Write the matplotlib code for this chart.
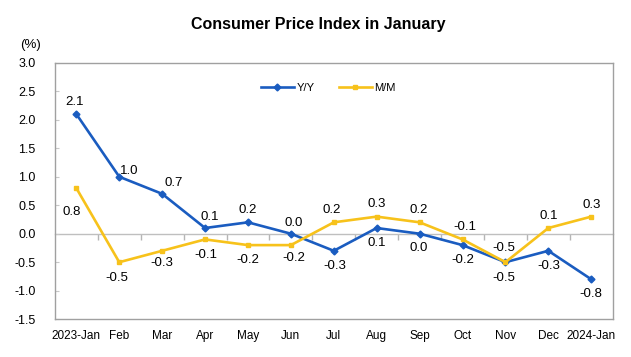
import matplotlib
matplotlib.use("Agg")
import matplotlib.pyplot as plt

categories = ["2023-Jan", "Feb", "Mar", "Apr", "May", "Jun", "Jul", "Aug",
              "Sep", "Oct", "Nov", "Dec", "2024-Jan"]
yy = [2.1, 1.0, 0.7, 0.1, 0.2, 0.0, -0.3, 0.1, 0.0, -0.2, -0.5, -0.3, -0.8]
mm = [0.8, -0.5, -0.3, -0.1, -0.2, -0.2, 0.2, 0.3, 0.2, -0.1, -0.5, 0.1, 0.3]
yticks = [-1.5, -1.0, -0.5, 0.0, 0.5, 1.0, 1.5, 2.0, 2.5, 3.0]

# label offsets in pixels (dx, dy; dy positive = up)
yy_off = [(-2, 12), (10, 6), (12, 11), (5, 11), (0, 12), (3, 11), (1, -15),
          (0, -15), (-1, -14), (0, -15), (-2, -16), (0, -15), (0, -15)]
mm_off = [(-5, -24), (-2, -16), (0, -12), (1, -16), (0, -15), (3, -13), (-2, 12),
          (0, 13), (-1, 12), (2, 12), (-2, 14), (0, 12), (0, 12)]

plt.rcParams['font.family'] = ['Liberation Sans', 'DejaVu Sans']

BLUE = "#1a5cc0"
YEL = "#f7c21b"
PX = 0.72  # points per pixel at 100 dpi

fig = plt.figure(figsize=(6.31, 3.57), dpi=100)
ax = fig.add_axes([0.087, 0.106, 0.884, 0.718])
x = list(range(len(categories)))

ax.plot(x, yy, color=BLUE, lw=1.9, marker='D', ms=3.5, label='Y/Y', zorder=3)
ax.plot(x, mm, color=YEL, lw=1.9, marker='s', ms=3.5, label='M/M', zorder=3)

for xi, v, (dx, dy) in zip(x, yy, yy_off):
    ax.annotate(f"{v:.1f}", (xi, v), xytext=(dx * PX, dy * PX),
                textcoords='offset points', ha='center', va='center', fontsize=9.5)
for xi, v, (dx, dy) in zip(x, mm, mm_off):
    ax.annotate(f"{v:.1f}", (xi, v), xytext=(dx * PX, dy * PX),
                textcoords='offset points', ha='center', va='center', fontsize=9.5)

ymin, ymax = -1.5, 3.0
ax.set_xlim(-0.5, len(categories) - 0.5)
ax.set_ylim(ymin, ymax)
ax.set_yticks(yticks)
ax.set_yticklabels([f"{t:.1f}" for t in yticks], fontsize=9)
ax.set_xticks(x)
ax.set_xticklabels(categories, fontsize=8.5)
ax.tick_params(axis='x', length=0, pad=8)
ax.tick_params(axis='y', length=3, direction='in', color='#c8c8c8', pad=14)
for s in ax.spines.values():
    s.set_color('#a0a0a0')
    s.set_linewidth(1)

# zero line with category-boundary ticks
zero_loc = (0 - ymin) / (ymax - ymin)
sec = ax.secondary_xaxis(zero_loc)
sec.set_xticks([i + 0.5 for i in x[:-1]])
sec.set_xticklabels([])
sec.tick_params(axis='x', direction='out', length=4, width=1, color='#b5b5b5')
for s in sec.spines.values():
    s.set_color('#bfbfbf')
    s.set_linewidth(1)

ax.legend(loc='upper center', bbox_to_anchor=(0.49, 0.96), ncol=2, frameon=False,
          fontsize=8, handlelength=3, columnspacing=2.2, handletextpad=0.2)

fig.text(0.505, 0.93, "Consumer Price Index in January", ha='center', va='center',
         fontsize=11.5, fontweight='bold')
fig.text(0.048, 0.873, "(%)", ha='center', va='center', fontsize=9.5)

fig.savefig("out.png", dpi=100)
